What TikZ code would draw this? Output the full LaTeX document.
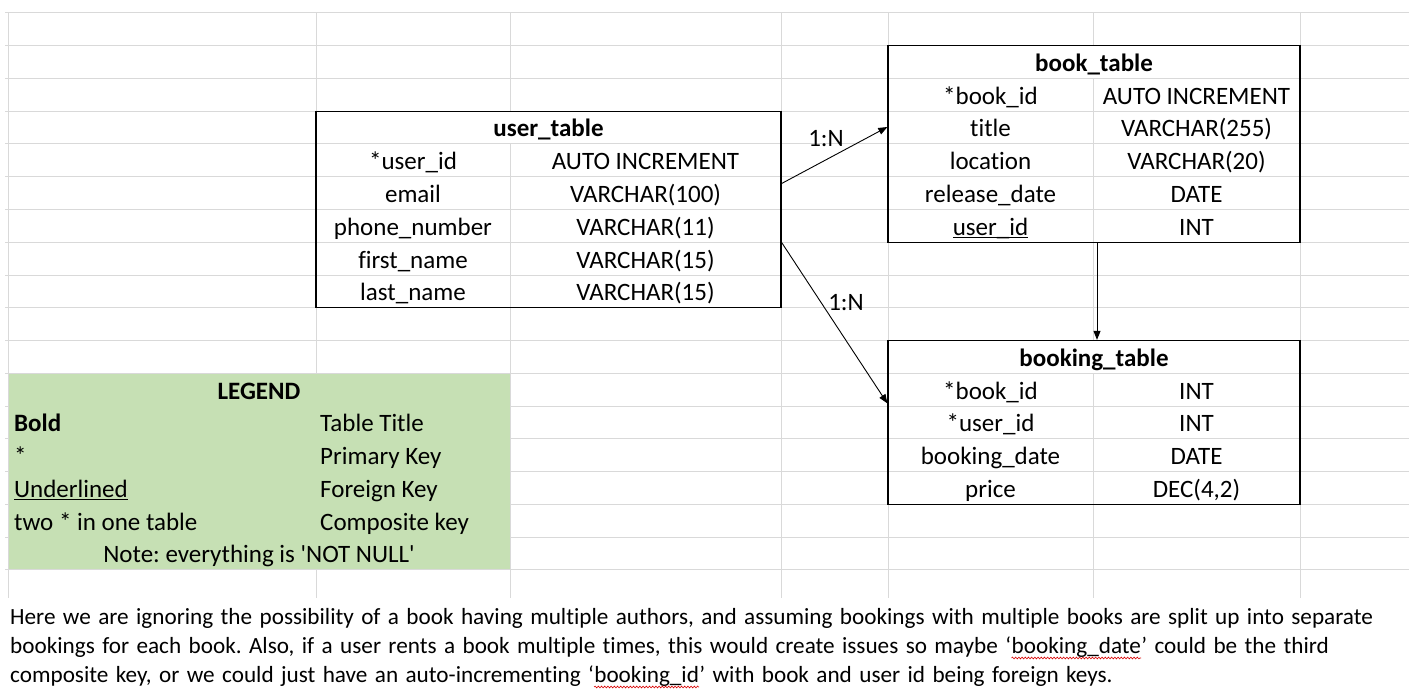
\documentclass[tikz,border=0pt]{standalone}
\usepackage{fontspec}
\setmainfont{Carlito}[Ligatures={TeXOff,NoCommon}]
\usetikzlibrary{arrows.meta,decorations.pathmorphing}
\definecolor{gridgray}{HTML}{D9D9D9}
\definecolor{legendgreen}{HTML}{C6E0B4}
\frenchspacing
\newcommand\fkul[1]{\setbox0\hbox{#1}\rlap{\rule[-2.6pt]{\wd0}{1.3pt}}\box0}
\newcommand\parafont{\fontsize{23.2}{27}\selectfont\frenchspacing\spaceskip=7.4pt plus 1pt\relax}
\tikzset{
  gridline/.style={draw=gridgray, line width=1pt},
  tablebox/.style={draw=black, line width=1.3pt, inner sep=0pt, fill=none},
  cell/.style={anchor=base, inner sep=0pt},
  lcell/.style={anchor=base west, inner sep=0pt},
  conn/.style={draw=black, line width=0.9pt, -{Triangle[length=9pt,width=7pt]}},
  lbl/.style={inner sep=0pt},
  para/.style={anchor=base west, inner sep=0pt, font=\parafont},
  squig/.style={draw=red!85!black, line width=0.6pt, decorate, decoration={snake, amplitude=0.9pt, segment length=3.2pt}}
}
\begin{document}
\begin{tikzpicture}[x=1pt,y=-1pt,font=\fontsize{25}{29}\selectfont\frenchspacing]
\useasboundingbox (0,0) rectangle (1409,698);
\fill[white] (0,0) rectangle (1409,698);
% spreadsheet grid
\foreach \i in {0,...,17} \draw[gridline] (5,13+\i*32.75) -- (1409,13+\i*32.75);
\foreach \x in {8,316,510,781,888,1093,1300} \draw[gridline] (\x,13) -- (\x,598);
% merged header cells hide the grid
\fill[white] (317,112) rectangle (780,143.5);
\fill[white] (889,46.5) rectangle (1299,78);
\fill[white] (889,341) rectangle (1299,372.75);
% legend fill
\fill[legendgreen] (8.5,373.75) rectangle (509.5,569.25);

% tables
\node[tablebox, minimum width=465pt, minimum height=196.5pt] (user) at (548.5,209.5) {};
\node[tablebox, minimum width=412pt, minimum height=196.5pt] (book) at (1094,144) {};
\node[tablebox, minimum width=412pt, minimum height=163.75pt] (booking) at (1094,422.375) {};

% user_table
\node[cell] (uh) at (548.5,137) {\bfseries user\_table};
\node[cell] (u1a) at (413,169.75) {*user\_id};
\node[cell] (u1b) at (645.5,169.75) {AUTO INCREMENT};
\node[cell] (u2a) at (413,202.5) {email};
\node[cell] (u2b) at (645.5,202.5) {VARCHAR(100)};
\node[cell] (u3a) at (413,235.25) {phone\_number};
\node[cell] (u3b) at (645.5,235.25) {VARCHAR(11)};
\node[cell] (u4a) at (413,268) {first\_name};
\node[cell] (u4b) at (645.5,268) {VARCHAR(15)};
\node[cell] (u5a) at (413,300.75) {last\_name};
\node[cell] (u5b) at (645.5,300.75) {VARCHAR(15)};

% book_table
\node[cell] (bh) at (1094,71.5) {\bfseries book\_table};
\node[cell] (b1a) at (990.5,104.25) {*book\_id};
\node[cell] (b1b) at (1196.5,104.25) {AUTO INCREMENT};
\node[cell] (b2a) at (990.5,137) {title};
\node[cell] (b2b) at (1196.5,137) {VARCHAR(255)};
\node[cell] (b3a) at (990.5,169.75) {location};
\node[cell] (b3b) at (1196.5,169.75) {VARCHAR(20)};
\node[cell] (b4a) at (990.5,202.5) {release\_date};
\node[cell] (b4b) at (1196.5,202.5) {DATE};
\node[cell] (b5a) at (990.5,235.25) {\fkul{user\_id}};
\node[cell] (b5b) at (1196.5,235.25) {INT};

% booking_table
\node[cell] (kh) at (1094,366.25) {\bfseries booking\_table};
\node[cell] (k1a) at (990.5,399) {*book\_id};
\node[cell] (k1b) at (1196.5,399) {INT};
\node[cell] (k2a) at (990.5,431.75) {*user\_id};
\node[cell] (k2b) at (1196.5,431.75) {INT};
\node[cell] (k3a) at (990.5,464.5) {booking\_date};
\node[cell] (k3b) at (1196.5,464.5) {DATE};
\node[cell] (k4a) at (990.5,497.25) {price};
\node[cell] (k4b) at (1196.5,497.25) {DEC(4,2)};

% legend
\node[cell] (lg) at (259,399) {\bfseries LEGEND};
\node[lcell] (lg1a) at (14,431.75) {\bfseries Bold};
\node[lcell] (lg1b) at (320,431.75) {Table Title};
\node[lcell] (lg2a) at (14,464.5) {*};
\node[lcell] (lg2b) at (320,464.5) {Primary Key};
\node[lcell] (lg3a) at (14,497.25) {\fkul{Underlined}};
\node[lcell] (lg3b) at (320,497.25) {Foreign Key};
\node[lcell] (lg4a) at (14,530) {two * in one table};
\node[lcell] (lg4b) at (320,530) {Composite key};
\node[cell] (lg5) at (259,562.75) {Note: everything is 'NOT NULL'};

% connectors
\draw[conn] ([yshift=26pt]user.east) -- ([yshift=17pt]book.west);
\draw[conn] ([yshift=-33pt]user.east) -- ([yshift=19pt]booking.west);
\draw[conn] ([xshift=3pt]book.south) -- ([xshift=3pt]booking.north);
\node[lbl] (n1) at (826,139) {1:N};
\node[lbl] (n2) at (846,303) {1:N};

% note paragraph
\node[para] (p1) at (10,624) {Here we are ignoring the possibility of a book having multiple authors, and assuming bookings with multiple books are split up into separate};
\node[para] (p2a) at (10,653) {bookings for each book. Also, if a user rents a book multiple times, this would create issues so maybe ‘};
\node[para] (p2b) at (p2a.base east) {booking\_date};
\node[para] (p2c) at (p2b.base east) {’ could be the third};
\node[para] (p3a) at (10,682) {composite key, or we could just have an auto-incrementing ‘};
\node[para] (p3b) at (p3a.base east) {booking\_id};
\node[para] (p3c) at (p3b.base east) {’ with book and user id being foreign keys.};
\draw[squig] ([yshift=-5pt]p2b.base west) -- ([yshift=-5pt]p2b.base east);
\draw[squig] ([yshift=-5pt]p3b.base west) -- ([yshift=-5pt]p3b.base east);
\end{tikzpicture}
\end{document}
